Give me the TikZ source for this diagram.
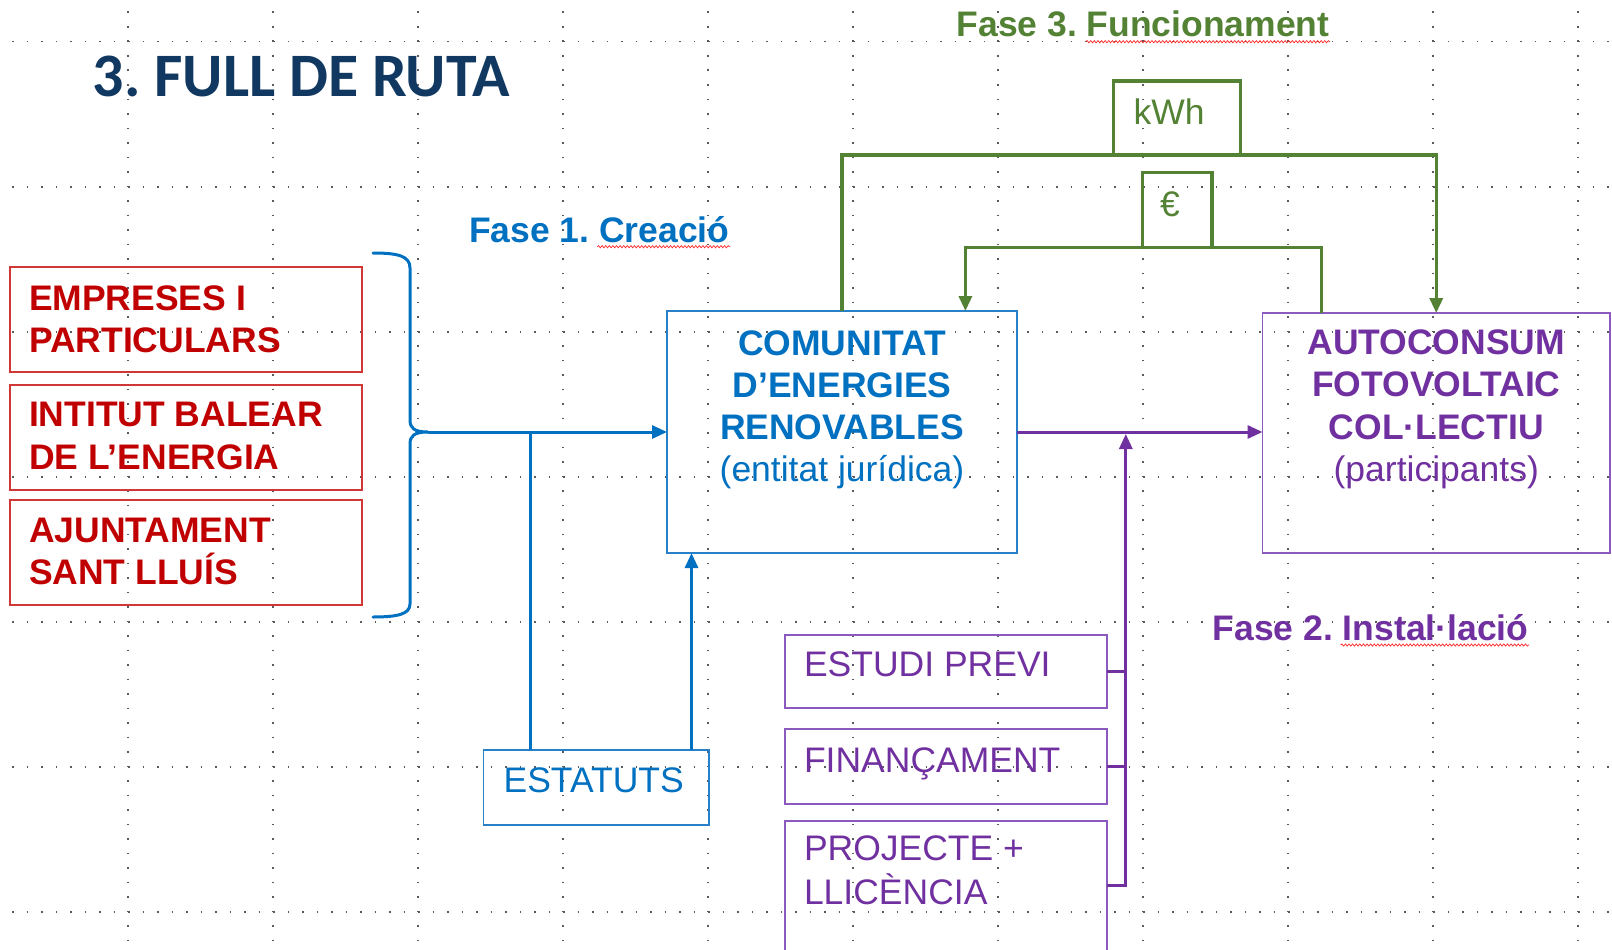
\documentclass[tikz,border=0pt]{standalone}
\usepackage{fontspec}
\setmainfont{Liberation Sans}
\newfontfamily\titlefont{Carlito}
\usetikzlibrary{arrows.meta,decorations.pathmorphing}
\definecolor{navy}{RGB}{16,56,96}
\definecolor{cblue}{RGB}{0,112,192}
\definecolor{cblueb}{RGB}{40,128,200}
\definecolor{cred}{RGB}{192,0,0}
\definecolor{credb}{RGB}{208,56,56}
\definecolor{cpur}{RGB}{112,48,160}
\definecolor{cpurb}{RGB}{140,90,190}
\definecolor{cgreen}{RGB}{84,130,53}
\definecolor{cgrid}{RGB}{90,90,90}
\frenchspacing
\begin{document}
\begin{tikzpicture}[x=1pt,y=-1pt,
  box/.style={draw, rectangle, inner sep=0, outer sep=0, line width=1.5},
  rbox/.style={box, draw=credb},
  bbox/.style={box, draw=cblueb},
  pbox/.style={box, draw=cpurb},
  gbox/.style={box, draw=cgreen, line width=3.3},
  txt/.style={inner sep=0, outer sep=0, font=\fontsize{35.5}{42}\selectfont},
  txtb/.style={txt, font=\fontsize{35.5}{42}\selectfont\bfseries},
  bline/.style={draw=cblue, line width=3},
  pline/.style={draw=cpur, line width=3},
  gline/.style={draw=cgreen, line width=3.3},
  tip/.style={-{Triangle[length=15,width=13]}},
  gridline/.style={draw=cgrid, line width=1.6, dash pattern=on 1.6 off 12.9},
  squig/.style={draw=red!85, line width=0.7, decorate, decoration={snake, amplitude=1.1, segment length=3.6}}
]
\useasboundingbox (0,0) rectangle (1612,950);
% background grid
\foreach \k in {0,...,6} \draw[gridline] (12.1,41.7+145*\k) -- (1612,41.7+145*\k);
\foreach \k in {0,...,10} \draw[gridline] (128+145*\k,11.5) -- (128+145*\k,950);

% title
\node[inner sep=0, anchor=base west, text=navy, font=\titlefont\fontsize{61.8}{62}\selectfont\bfseries] (title) at (92.5,96.7) {3. FULL DE RUTA};

% phase labels
\node[txtb, anchor=base west, text=cblue] (f1) at (469,242.3) {Fase 1. Creació};
\node[txtb, anchor=base west, text=cgreen] (f3) at (956.6,36.7) {Fase 3. Funcionament};
\node[txtb, anchor=base west, text=cpur] (f2) at (1212.7,640) {Fase 2. Instal·lació};
\draw[squig] (597.4,246.7) -- (730,246.7);
\draw[squig] (1086,41.7) -- (1330,41.7);
\draw[squig] (1340.7,645) -- (1529,645);

% red boxes
\node[rbox, minimum width=352, minimum height=105] (ra) at (186,319.5) {};
\node[rbox, minimum width=352, minimum height=105] (rb) at (186,437.5) {};
\node[rbox, minimum width=352, minimum height=105] (rc) at (186,552.5) {};
\node[txtb, anchor=base west, text=cred] (ra1) at (29,310) {EMPRESES I};
\node[txtb, anchor=base west, text=cred] (ra2) at (29,352.7) {PARTICULARS};
\node[txtb, anchor=base west, text=cred] (rb1) at (29,426.7) {INTITUT BALEAR};
\node[txtb, anchor=base west, text=cred] (rb2) at (29,469) {DE L’ENERGIA};
\node[txtb, anchor=base west, text=cred] (rc1) at (29,542.7) {AJUNTAMENT};
\node[txtb, anchor=base west, text=cred] (rc2) at (29,584) {SANT LLUÍS};

% community box
\node[bbox, minimum width=350, minimum height=242] (cer) at (842,432) {};
\node[txtb, anchor=base, text=cblue] (cer1) at (842,355) {COMUNITAT};
\node[txtb, anchor=base, text=cblue] (cer2) at (842,397) {D’ENERGIES};
\node[txtb, anchor=base, text=cblue] (cer3) at (842,439) {RENOVABLES};
\node[txt, anchor=base, text=cblue] (cer4) at (842,481.7) {(entitat jurídica)};

% self-consumption box
\node[pbox, minimum width=347.5, minimum height=240] (acf) at (1436.25,433) {};
\node[txtb, anchor=base, text=cpur] (acf1) at (1436.25,354.3) {AUTOCONSUM};
\node[txtb, anchor=base, text=cpur] (acf2) at (1436.25,396.7) {FOTOVOLTAIC};
\node[txtb, anchor=base, text=cpur] (acf3) at (1436.25,439.3) {COL·LECTIU};
\node[txt, anchor=base, text=cpur] (acf4) at (1436.25,481.7) {(participants)};

% statutes
\node[bbox, minimum width=225.5, minimum height=75] (est) at (596.25,787.5) {};
\node[txt, anchor=base west, text=cblue] (est1) at (503.6,792.7) {ESTATUTS};

% installation steps
\node[pbox, minimum width=322, minimum height=73] (ep) at (946,671.5) {};
\node[pbox, minimum width=322, minimum height=75] (fin) at (946,766.5) {};
\node[pbox, minimum width=322, minimum height=139] (proj) at (946,890.5) {};
\node[txt, anchor=base west, text=cpur] (ep1) at (804,676.7) {ESTUDI PREVI};
\node[txt, anchor=base west, text=cpur] (fin1) at (804,772.7) {FINANÇAMENT};
\node[txt, anchor=base west, text=cpur] (proj1) at (804,860) {PROJECTE +};
\node[txt, anchor=base west, text=cpur] (proj2) at (804,904) {LLICÈNCIA};

% kWh and euro boxes
\node[gbox, minimum width=126.9, minimum height=74] (kwh) at (1176.95,118) {};
\node[txt, anchor=base west, text=cgreen] (kwh1) at (1133.5,124) {kWh};
\node[gbox, minimum width=69.2, minimum height=74.6] (eur) at (1177.4,210) {};
\node[txt, anchor=base, text=cgreen] (eur1) at (1170,216.5) {€};

% blue brace and connectors
\coordinate (bt) at (428,432);
\draw[bline, line cap=round] (373,253) .. controls (398,253) and (410,256) .. (410,268)
  -- (410,420) .. controls (410,428) and (414,432) .. (bt)
  .. controls (414,432) and (410,436) .. (410,444)
  -- (410,604) .. controls (410,614) and (398,617) .. (373,617);
\draw[bline, tip] (bt) -- (bt -| cer.west);
\coordinate (j1) at (530.6,432);
\draw[bline] (j1 |- est.north) -- (j1);
\coordinate (e2) at (691.5,0);
\draw[bline, tip] (e2 |- est.north) -- (e2 |- cer.south);

% purple connectors
\draw[pline, tip] (cer.east) -- (cer.east -| acf.west);
\coordinate (pj) at (1125.8,434);
\coordinate (pb) at (1125.8,885);
\draw[pline] (ep.east) -- (ep.east -| pj);
\draw[pline] (fin.east) -- (fin.east -| pj);
\draw[pline, tip] (pb -| proj.east) -- (pb) -- (pj);

% green connectors
\coordinate (g1L) at (842,155);
\coordinate (g1R) at (1436.25,155);
\draw[gline, tip] (cer.north) -- (g1L) -- (g1R) -- (acf.north);
\coordinate (g2L) at (965.4,247.3);
\coordinate (g2R) at (1321.7,247.3);
\draw[gline, tip] (g2R |- acf.north) -- (g2R) -- (g2L) -- (g2L |- cer.north);
\end{tikzpicture}
\end{document}
